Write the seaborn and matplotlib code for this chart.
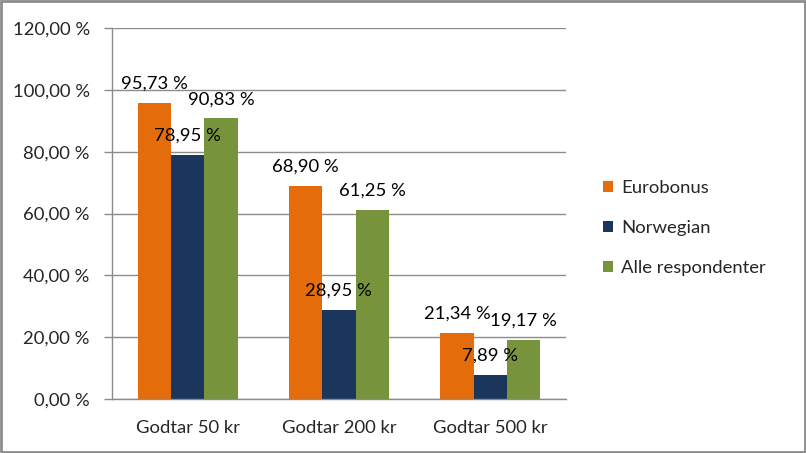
import matplotlib
matplotlib.use("Agg")
import matplotlib.pyplot as plt
import seaborn as sns
import pandas as pd
from matplotlib.patches import Rectangle
from matplotlib.ticker import FuncFormatter, FixedLocator

categories = ["Godtar 50 kr", "Godtar 200 kr", "Godtar 500 kr"]
series = ["Eurobonus", "Norwegian", "Alle respondenter"]
eurobonus = [95.73, 68.90, 21.34]
norwegian = [78.95, 28.95, 7.89]
alle = [90.83, 61.25, 19.17]
colors = ["#E46C0A", "#1B365D", "#77933C"]

df = pd.DataFrame({
    "kategori": categories * 3,
    "serie": [s for s in series for _ in categories],
    "verdi": eurobonus + norwegian + alle,
})

sns.set_style("white")
plt.rcParams["font.family"] = ["Lato", "DejaVu Sans"]
fs = 13.3

fig = plt.figure(figsize=(8.06, 4.53), dpi=100)
ax = fig.add_axes([0.139, 0.119, 0.563, 0.819])

sns.barplot(data=df, x="kategori", y="verdi", hue="serie", palette=colors,
            width=0.66, saturation=1, linewidth=0, ax=ax, legend=True)

for cont in ax.containers:
    for bar in cont:
        h = bar.get_height()
        ax.annotate(f"{h:.2f} %".replace(".", ","),
                    (bar.get_x() + bar.get_width() / 2, h),
                    xytext=(0, 8), textcoords="offset points",
                    ha="center", va="bottom", fontsize=fs, color="black")

ax.set_ylim(0, 120)
ax.set_xlim(-0.5, 2.5)
ax.set_yticks(range(0, 121, 20))
ax.yaxis.set_major_formatter(FuncFormatter(lambda v, p: f"{v:.2f} %".replace(".", ",")))
ax.yaxis.grid(True, color="#8c8c8c", linewidth=1)
ax.set_axisbelow(True)
ax.set_xlabel("")
ax.set_ylabel("")

for s in ["top", "right"]:
    ax.spines[s].set_visible(False)
for s in ["left", "bottom"]:
    ax.spines[s].set_color("#8c8c8c")
    ax.spines[s].set_linewidth(1)

ax.xaxis.set_minor_locator(FixedLocator([-0.5, 0.5, 1.5, 2.5]))
ax.tick_params(axis="x", which="major", length=0, pad=15, labelsize=fs)
ax.tick_params(axis="x", which="minor", length=6, color="#8c8c8c", width=1)
ax.tick_params(axis="y", length=6, color="#8c8c8c", width=1, pad=10, labelsize=fs, left=True)

handles, labels = ax.get_legend_handles_labels()
ax.legend(handles, labels, loc="center left", bbox_to_anchor=(1.045, 0.46),
          frameon=False, fontsize=fs, handlelength=0.55, handleheight=0.55,
          labelspacing=1.3, handletextpad=0.45)

fig.patches.append(Rectangle((0.0015, 0.002), 0.997, 0.996, transform=fig.transFigure,
                             fill=False, edgecolor="#8c8c8c", linewidth=2))

fig.savefig("out.png", dpi=100)
